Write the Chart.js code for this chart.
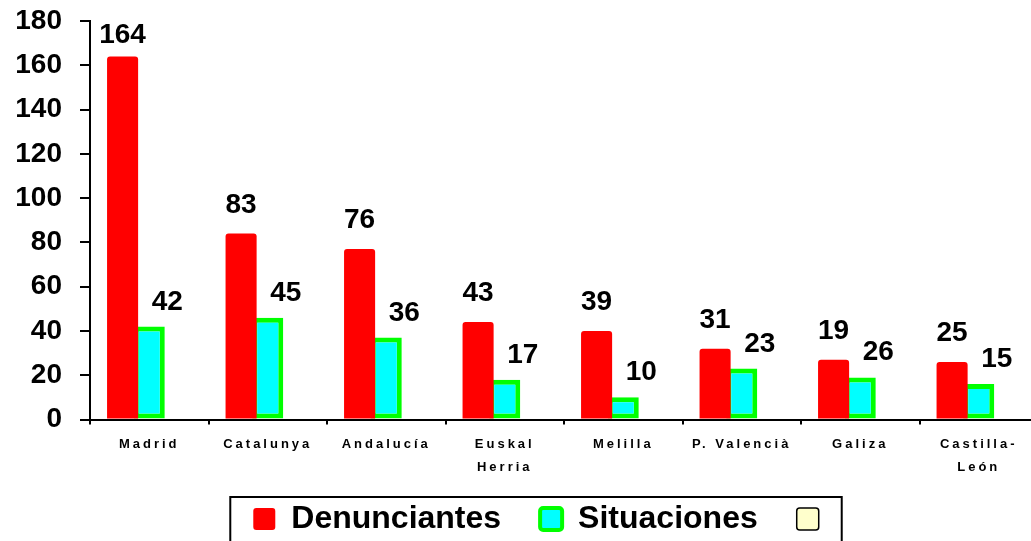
<!DOCTYPE html>
<html>
<head>
<meta charset="utf-8">
<script src="https://cdn.jsdelivr.net/npm/chart.js@4.4.0/dist/chart.umd.min.js"></script>
<style>
  html, body { margin: 0; padding: 0; background: #fff; overflow: hidden; height: 541px; }
  #wrap { width: 1070px; height: 569px; }
</style>
</head>
<body>
<div id="wrap"><canvas id="chart" width="1070" height="569"></canvas></div>
<script>
'use strict';

const FONT = '"Liberation Sans", Arial, sans-serif';

const REGIONS = [
  'Madrid', 'Catalunya', 'Andalucía', ['Euskal', 'Herria'],
  'Melilla', 'P. Valencià', 'Galiza', ['Castilla-', 'León'],
];

// bar heights as drawn
const DENUNCIANTES = [164, 84, 77, 44, 40, 32, 27, 26];
const SITUACIONES  = [42, 46, 37, 18, 10, 23, 19, 16];
const THIRD_SERIES = [null, null, null, null, null, null, null, null];

// numbers printed above the bars
const DENUNCIANTES_TEXT = [164, 83, 76, 43, 39, 31, 19, 25];
const SITUACIONES_TEXT  = [42, 45, 36, 17, 10, 23, 26, 15];

const Y_MIN  = 0;
const Y_MAX  = 180;
const Y_STEP = 20;

const LABEL_SETS = [
  { datasetIndex: 0, texts: DENUNCIANTES_TEXT, dx: 0,  gap: 21 },
  { datasetIndex: 1, texts: SITUACIONES_TEXT,  dx: 18, gap: 17 },
];

// the legend sits a little right of centre and higher than Chart.js puts it
const LEGEND_DX = 25;
const LEGEND_DY = -24;

const chartTweaks = {
  id: 'chartTweaks',
  afterLayout(chart) {
    const lg = chart.legend;
    lg.left   += LEGEND_DX;
    lg.right  += LEGEND_DX;
    lg.top    += LEGEND_DY;
    lg.bottom += LEGEND_DY;
  },
  afterDatasetsDraw(chart) {
    const { ctx, chartArea } = chart;
    ctx.save();
    ctx.letterSpacing = '0px';
    ctx.font      = `bold 28px ${FONT}`;
    ctx.fillStyle = '#000';
    ctx.textAlign = 'center';
    ctx.textBaseline = 'alphabetic';
    for (const { datasetIndex, texts, dx, gap } of LABEL_SETS) {
      chart.getDatasetMeta(datasetIndex).data.forEach((bar, i) => {
        const y = Math.max(bar.y - gap, chartArea.top + 22);
        ctx.fillText(String(texts[i]), bar.x + dx, y);
      });
    }
    ctx.restore();
    // category names (ticks z:1) are drawn right after this, spaced out
    ctx.letterSpacing = '3px';
  },
  afterDraw(chart) {
    const { ctx } = chart;
    ctx.letterSpacing = '0px';
    const boxes = chart.legend.legendHitBoxes;
    if (!boxes || !boxes.length) return;
    const first = boxes[0];
    const last  = boxes[boxes.length - 1];
    const left  = first.left - 23;
    const right = last.left + last.width + 7;
    const top   = first.top - 6;
    ctx.save();
    ctx.strokeStyle = '#000';
    ctx.lineWidth = 2;
    ctx.strokeRect(left, top, right - left, chart.height + 10 - top);
    ctx.restore();
  },
};

const legendLabels = chart => {
  const items = Chart.defaults.plugins.legend.labels.generateLabels(chart);
  items.forEach(item => {
    if (item.datasetIndex === 1) item.lineWidth = 4;
    if (item.datasetIndex === 2) item.lineWidth = 1.5;
  });
  return items;
};

new Chart(document.getElementById('chart').getContext('2d'), {
  type: 'bar',
  data: {
    labels: REGIONS,
    datasets: [
      {
        label: 'Denunciantes',
        data: DENUNCIANTES,
        backgroundColor: '#FF0000',
        borderWidth: 0,
        borderRadius: { topLeft: 3, topRight: 3 },
        categoryPercentage: 0.675,
        barPercentage: 1.165,
      },
      {
        label: 'Situaciones',
        data: SITUACIONES,
        backgroundColor: '#00FFFF',
        borderColor: '#00FF00',
        borderWidth: 5,
        borderSkipped: false,
        categoryPercentage: 0.675,
        barPercentage: 1.165,
      },
      {
        label: '',
        data: THIRD_SERIES,
        backgroundColor: '#FFFFCC',
        borderColor: '#000',
        borderWidth: 1.5,
        categoryPercentage: 0.675,
        barPercentage: 1.165,
      },
    ],
  },
  options: {
    responsive: false,
    animation: false,
    devicePixelRatio: 1,
    layout: { autoPadding: false, padding: { top: 21, left: 0, right: 32, bottom: 0 } },
    plugins: {
      tooltip: { enabled: false },
      legend: {
        position: 'bottom',
        labels: {
          color: '#000',
          font: { size: 32, weight: 'bold', family: FONT },
          boxWidth: 22,
          boxHeight: 22,
          padding: 39,
          useBorderRadius: true,
          borderRadius: 3,
          generateLabels: legendLabels,
        },
      },
    },
    scales: {
      x: {
        offset: true,
        grid: {
          offset: true,
          drawOnChartArea: false,
          tickLength: 5,
          color: '#000',
          lineWidth: 2,
        },
        border: { color: '#000', width: 2 },
        ticks: {
          z: 1,
          color: '#000',
          padding: 9,
          maxRotation: 0,
          autoSkip: false,
          font: { size: 13, weight: 'bold', family: FONT, lineHeight: 1.75 },
        },
      },
      y: {
        min: Y_MIN,
        max: Y_MAX,
        ticks: {
          stepSize: Y_STEP,
          color: '#000',
          padding: 18,
          font: { size: 28, weight: 'bold', family: FONT },
        },
        grid: {
          drawOnChartArea: false,
          tickLength: 10,
          color: '#000',
          lineWidth: 2,
        },
        border: { color: '#000', width: 2 },
        afterFit(scale) {
          scale.width = 90;
          scale.paddingTop = 0;
          scale.paddingBottom = 0;
        },
      },
    },
  },
  plugins: [chartTweaks],
});
</script>
</body>
</html>
